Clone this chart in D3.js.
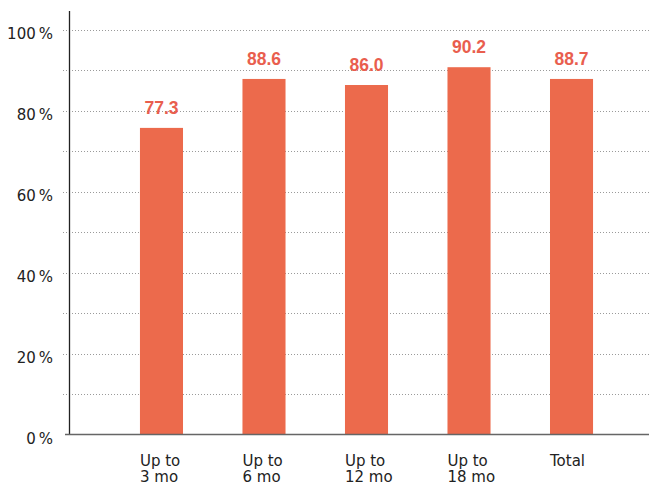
<!DOCTYPE html>
<html>
<head>
<meta charset="utf-8">
<script src="https://cdn.jsdelivr.net/npm/d3@7"></script>
<style>
  html, body { margin: 0; padding: 0; background: #fff; }
  svg { display: block; }
</style>
</head>
<body>
<svg id="chart" width="649" height="485"></svg>
<script>
// ---- data ----
const categories = [["Up to", "3 mo"], ["Up to", "6 mo"], ["Up to", "12 mo"], ["Up to", "18 mo"], ["Total"]];
const barValues = [75.8, 87.9, 86.4, 90.8, 87.9];
const labelTexts = ["77.3", "88.6", "86.0", "90.2", "88.7"];
const yTicks = [0, 20, 40, 60, 80, 100];
const yGrid = [10, 20, 30, 40, 50, 60, 70, 80, 90, 100];

const W = 649, H = 485;
const svg = d3.select("#chart");

const y = d3.scaleLinear().domain([0, 100]).range([434.5, 30]);
const x = d3.scaleBand().domain(d3.range(categories.length))
  .range([80.5, 652.5]).paddingInner(0.58).paddingOuter(0.58);

const axisX = 69.5;

// gridlines
svg.append("g").selectAll("line").data(yGrid).join("line")
  .attr("x1", 63).attr("x2", W)
  .attr("y1", d => Math.round(y(d)) + 0.5).attr("y2", d => Math.round(y(d)) + 0.5)
  .attr("stroke", "#9a9a9a").attr("stroke-width", 1)
  .attr("stroke-dasharray", "1,2");

// bars
svg.append("g").selectAll("rect").data(barValues).join("rect")
  .attr("x", (d, i) => x(i))
  .attr("width", x.bandwidth())
  .attr("y", d => y(d))
  .attr("height", d => y(0) - y(d))
  .attr("fill", "#EC6A4C");

// value labels
svg.append("g").selectAll("text").data(labelTexts).join("text")
  .attr("x", (d, i) => x(i) + x.bandwidth() / 2)
  .attr("y", (d, i) => y(barValues[i]) - 14)
  .attr("text-anchor", "middle")
  .attr("font-family", "'Liberation Sans', Arial, sans-serif")
  .attr("font-weight", "bold")
  .attr("font-size", 17.5)
  .attr("fill", "#E95E4E")
  .text(d => d);

// y axis line
svg.append("line")
  .attr("x1", axisX).attr("x2", axisX)
  .attr("y1", 11).attr("y2", 435)
  .attr("stroke", "#222").attr("stroke-width", 1.3);

// x axis line
svg.append("line")
  .attr("x1", 65).attr("x2", W)
  .attr("y1", 434.5).attr("y2", 434.5)
  .attr("stroke", "#666").attr("stroke-width", 1.6);

// y tick labels
svg.append("g").selectAll("text").data(yTicks).join("text")
  .attr("x", 53)
  .attr("y", d => y(d) + 9)
  .attr("text-anchor", "end")
  .attr("font-family", "'DejaVu Sans', sans-serif")
  .attr("font-size", 15)
  .attr("fill", "#222")
  .text(d => d + "\u2009%");

// x category labels
const xl = svg.append("g").selectAll("text").data(categories).join("text")
  .attr("x", (d, i) => x(i))
  .attr("y", 465.5)
  .attr("font-family", "'DejaVu Sans', sans-serif")
  .attr("font-size", 15)
  .attr("fill", "#222");
xl.selectAll("tspan").data(d => d).join("tspan")
  .attr("x", function () { return d3.select(this.parentNode).attr("x"); })
  .attr("dy", (d, i) => i === 0 ? 0 : 16.5)
  .text(d => d);
</script>
</body>
</html>
